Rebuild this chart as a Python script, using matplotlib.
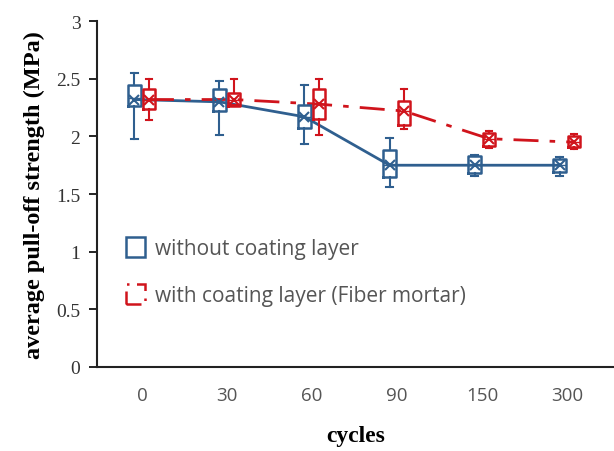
import matplotlib
matplotlib.use('Agg')
import matplotlib.pyplot as plt
import matplotlib.patches as mpatches
import numpy as np

cycles = ['0', '30', '60', '90', '150', '300']

# without coating layer (blue)
blue_whislo = [1.98, 2.01, 1.93, 1.56, 1.66, 1.66]
blue_q1 = [2.26, 2.22, 2.07, 1.65, 1.68, 1.69]
blue_med = [2.33, 2.30, 2.17, 1.75, 1.75, 1.75]
blue_q3 = [2.45, 2.41, 2.27, 1.88, 1.83, 1.80]
blue_whishi = [2.55, 2.48, 2.45, 1.99, 1.84, 1.82]
blue_mean = [2.32, 2.30, 2.17, 1.75, 1.75, 1.75]

# with coating layer (red)
red_whislo = [2.14, 2.27, 2.01, 2.06, 1.90, 1.89]
red_q1 = [2.24, 2.26, 2.15, 2.10, 1.92, 1.91]
red_med = [2.32, 2.32, 2.28, 2.22, 1.98, 1.95]
red_q3 = [2.41, 2.38, 2.41, 2.31, 2.03, 2.00]
red_whishi = [2.50, 2.50, 2.50, 2.41, 2.05, 2.02]
red_mean = [2.32, 2.32, 2.28, 2.22, 1.98, 1.95]

blue = '#2f5f8f'
red = '#d0141c'


def make_stats(lo, q1, med, q3, hi, mean):
    return [dict(whislo=a, q1=b, med=c, q3=d, whishi=e, mean=f, fliers=[])
            for a, b, c, d, e, f in zip(lo, q1, med, q3, hi, mean)]


def draw_boxes(ax, stats, pos, color):
    ax.bxp(stats, positions=pos, widths=0.15, showmeans=True, patch_artist=False,
           boxprops=dict(color=color, linewidth=1.8),
           whiskerprops=dict(color=color, linewidth=1.5),
           capprops=dict(color=color, linewidth=1.5),
           medianprops=dict(color=color, linewidth=1.0),
           meanprops=dict(marker='x', markeredgecolor=color, markersize=7, markeredgewidth=1.5),
           manage_ticks=False)


fig = plt.figure(figsize=(6.14, 4.52), dpi=100)
ax = fig.add_axes([0.158, 0.186, 0.842, 0.765])

x = np.arange(len(cycles))
bx = x - 0.09
rx = x + 0.08

ax.plot(bx, blue_mean, color=blue, lw=2, zorder=1)
ax.plot(rx, red_mean, color=red, lw=2, ls=(0, (9, 4, 2, 4)), zorder=1)

draw_boxes(ax, make_stats(blue_whislo, blue_q1, blue_med, blue_q3, blue_whishi, blue_mean), bx, blue)
draw_boxes(ax, make_stats(red_whislo, red_q1, red_med, red_q3, red_whishi, red_mean), rx, red)

ax.set_xlim(-0.53, 5.55)
ax.set_ylim(0, 3)
ax.set_yticks(np.arange(0, 3.01, 0.5))
ax.set_yticklabels(['0', '0.5', '1', '1.5', '2', '2.5', '3'],
                   fontfamily='Liberation Serif', fontsize=14, color='#333333')
ax.set_xticks(x)
ax.set_xticklabels(cycles, fontfamily='Open Sans', fontsize=13.5, color='#555555')
ax.tick_params(axis='x', length=0, pad=14)
ax.tick_params(axis='y', length=6, width=1.2, direction='out', pad=6)

for s in ['top', 'right']:
    ax.spines[s].set_visible(False)
ax.spines['left'].set_linewidth(1.5)
ax.spines['bottom'].set_linewidth(1.5)
ax.spines['left'].set_color('#222222')
ax.spines['bottom'].set_color('#222222')

ax.set_ylabel('average pull-off strength (MPa)', fontfamily='Liberation Serif',
              fontweight='bold', fontsize=17.5, labelpad=8)
ax.set_xlabel('cycles', fontfamily='Liberation Serif', fontweight='bold',
              fontsize=17, labelpad=15)

h1 = mpatches.Patch(facecolor='white', edgecolor=blue, linewidth=1.8,
                    label='without coating layer')
h2 = mpatches.Patch(facecolor='white', edgecolor=red, linewidth=1.8, linestyle=(0, (6, 3, 1, 3)),
                    label='with coating layer (Fiber mortar)')
leg = ax.legend(handles=[h1, h2], loc='upper left', bbox_to_anchor=(0.02, 0.43),
                frameon=False, prop=dict(family='Open Sans', size=15),
                handlelength=0.9, handleheight=1.1, handletextpad=0.5, labelspacing=1.2)
for t in leg.get_texts():
    t.set_color('#555555')

fig.savefig('out.png', dpi=100)
